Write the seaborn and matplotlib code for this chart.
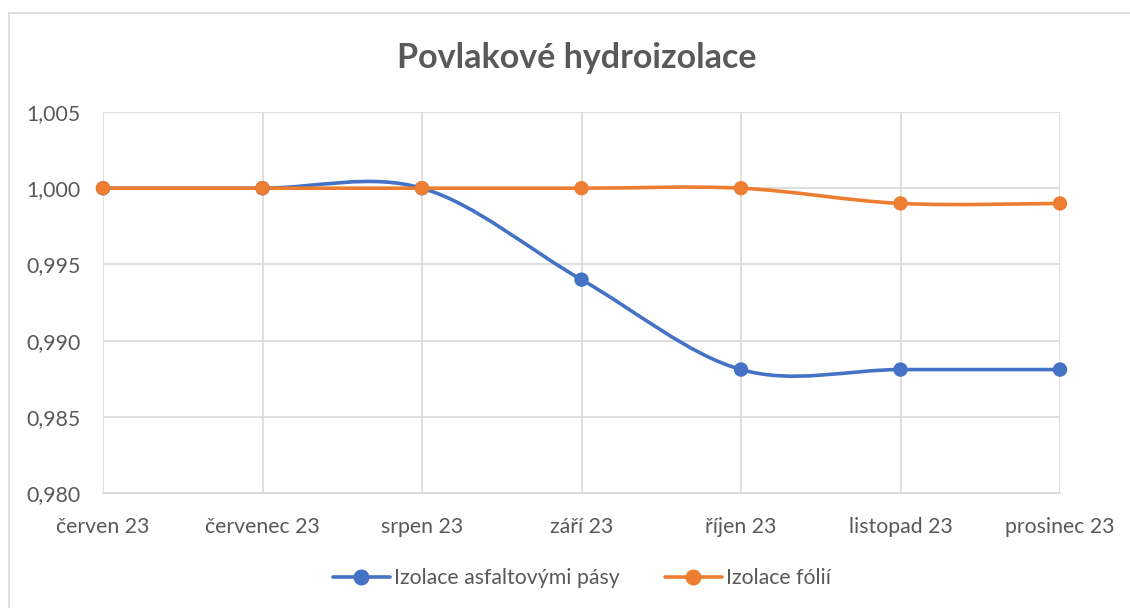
import numpy as np
import pandas as pd
import seaborn as sns
import matplotlib.pyplot as plt
from matplotlib.path import Path
from matplotlib.patches import PathPatch, Rectangle
from matplotlib.lines import Line2D
from matplotlib.ticker import FuncFormatter, MultipleLocator

## Data
months = ["červen 23", "červenec 23", "srpen 23", "září 23", "říjen 23", "listopad 23", "prosinec 23"]
asfalt = [1.000, 1.000, 1.000, 0.994, 0.9881, 0.9881, 0.9881]
folie = [1.000, 1.000, 1.000, 1.000, 1.000, 0.999, 0.999]
series_names = ["Izolace asfaltovými pásy", "Izolace fólií"]
colors = ["#4472C4", "#ED7D31"]

df = pd.DataFrame({
    "pos": list(range(len(months))) * 2,
    "value": asfalt + folie,
    "series": [series_names[0]] * len(months) + [series_names[1]] * len(months),
})

sns.set_theme(style="white")
plt.rcParams["font.family"] = ["Lato", "DejaVu Sans"]
text_col = "#595959"
grid_col = "#D9D9D9"

fig = plt.figure(figsize=(11.3, 6.08), dpi=100)
ax = fig.add_axes([103 / 1130, 1 - 493 / 608, (1060 - 103) / 1130, (493 - 112) / 608])

# chart area frame
fig.patches.append(Rectangle((9 / 1130, -0.1), 1.2, (608 - 13) / 608 + 0.1, transform=fig.transFigure,
                             fill=False, edgecolor=grid_col, linewidth=1.2))


def smooth_path(xs, ys):
    # Excel-like smoothed line (Catmull-Rom as bezier)
    pts = np.column_stack([xs, ys]).astype(float)
    n = len(pts)
    verts = [pts[0]]
    codes = [Path.MOVETO]
    for i in range(n - 1):
        p0 = pts[i - 1] if i > 0 else pts[i]
        p1 = pts[i]
        p2 = pts[i + 1]
        p3 = pts[i + 2] if i + 2 < n else pts[i + 1]
        c1 = p1 + (p2 - p0) / 6
        c2 = p2 - (p3 - p1) / 6
        verts += [c1, c2, p2]
        codes += [Path.CURVE4] * 3
    return Path(verts, codes)


for name, col in zip(series_names, colors):
    sub = df[df.series == name]
    ax.add_patch(PathPatch(smooth_path(sub.pos, sub.value), fill=False, edgecolor=col,
                           linewidth=2.6, zorder=3, capstyle="round"))

sns.scatterplot(data=df, x="pos", y="value", hue="series", palette=colors, s=108,
                edgecolor="none", legend=False, zorder=4, clip_on=False, ax=ax)

ax.set_xlim(0, len(months) - 1)
ax.set_ylim(0.980, 1.005)
ax.yaxis.set_major_locator(MultipleLocator(0.005))
ax.yaxis.set_major_formatter(FuncFormatter(lambda v, p: f"{v:.3f}".replace(".", ",")))
ax.set_xticks(range(len(months)))
ax.set_xticklabels(months)
ax.grid(True, color=grid_col, linewidth=1.2)
ax.set_axisbelow(True)
for s in ["top", "right", "left"]:
    ax.spines[s].set_visible(False)
ax.spines["bottom"].set_color(grid_col)
ax.spines["bottom"].set_linewidth(1.2)
ax.tick_params(axis="both", length=0, labelsize=15.3, colors=text_col)
ax.tick_params(axis="x", pad=17)
ax.tick_params(axis="y", pad=16)
ax.set_xlabel("")
ax.set_ylabel("")

fig.text(577 / 1130, 1 - 58 / 608, "Povlakové hydroizolace", ha="center", va="center",
         fontsize=24.5, fontweight="bold", color=text_col)

handles = [Line2D([], [], color=c, linewidth=2.6, marker="o", markersize=10.5) for c in colors]
fig.legend(handles, series_names, loc="center", bbox_to_anchor=(582 / 1130, 1 - 578 / 608),
           ncol=2, frameon=False, fontsize=15.3, labelcolor=text_col, handlelength=2.7,
           handletextpad=0.2, columnspacing=2.1)

fig.savefig("out.png", dpi=100)
